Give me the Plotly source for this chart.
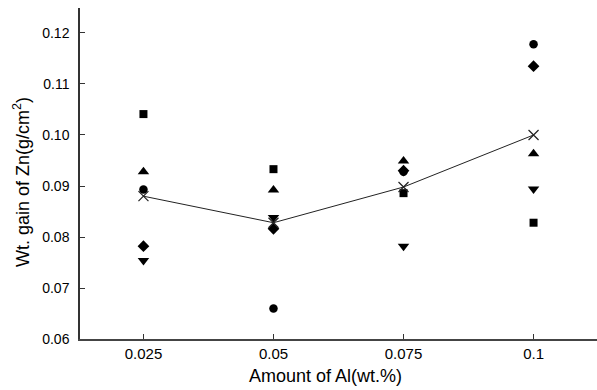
import plotly.graph_objects as go

al = [0.025, 0.05, 0.075, 0.1]
sq = [0.1041, 0.0933, 0.0886, 0.0828]
tri_up = [0.0928, 0.0892, 0.0949, 0.0963]
circ = [0.0893, 0.0660, 0.0928, 0.1178]
diam = [0.0782, 0.0816, 0.0930, 0.1135]
tri_dn = [0.0754, 0.0838, 0.0782, 0.0894]
mean = [0.0880, 0.0828, 0.0898, 0.1000]

FONT = "Arial, Liberation Sans, sans-serif"
fig = go.Figure()
series = [
    (sq, "square", 8),
    (tri_up, "triangle-up", 10),
    (circ, "circle", 8.5),
    (diam, "diamond", 9),
    (tri_dn, "triangle-down", 10),
]
for ys, sym, sz in series:
    fig.add_trace(go.Scatter(x=al, y=ys, mode="markers",
                             marker=dict(symbol=sym, size=sz, color="black",
                                         line=dict(width=0)),
                             showlegend=False))
fig.add_trace(go.Scatter(x=al, y=mean, mode="lines+markers",
                         line=dict(color="#222", width=1),
                         marker=dict(symbol="x-thin", size=10,
                                     line=dict(color="#222", width=1.2)),
                         showlegend=False))

fig.update_layout(
    width=597, height=390,
    margin=dict(l=80, r=0, t=8, b=51),
    paper_bgcolor="white", plot_bgcolor="white",
    font=dict(family=FONT, color="black"),
    xaxis=dict(range=[0.0128, 0.1122], tickvals=al,
               ticktext=["0.025", "0.05", "0.075", "0.1"],
               ticks="inside", ticklen=5, tickcolor="#333",
               showline=True, linecolor="#444", linewidth=1.5,
               showgrid=False, zeroline=False,
               tickfont=dict(size=15)),
    yaxis=dict(range=[0.06, 0.1249], tickvals=[0.06, 0.07, 0.08, 0.09, 0.10, 0.11, 0.12],
               tickformat=".2f",
               ticks="inside", ticklen=5, tickcolor="#333",
               showline=True, linecolor="#333", linewidth=1.5,
               showgrid=False, zeroline=False,
               tickfont=dict(size=14), ticklabelstandoff=6),
    annotations=[
        dict(text="Amount of Al(wt.%)", xref="paper", yref="paper",
             x=(325 - 80) / 517, y=-(376 - 339) / 331, xanchor="center", yanchor="middle",
             showarrow=False, font=dict(size=18)),
        dict(text="Wt. gain of Zn(g/cm<sup>2</sup>)", xref="paper", yref="paper",
             x=-(80 - 21) / 517, y=(339 - 182) / 331, xanchor="center", yanchor="middle",
             textangle=-90, showarrow=False, font=dict(size=18)),
    ],
)
fig.write_html("out.html")
